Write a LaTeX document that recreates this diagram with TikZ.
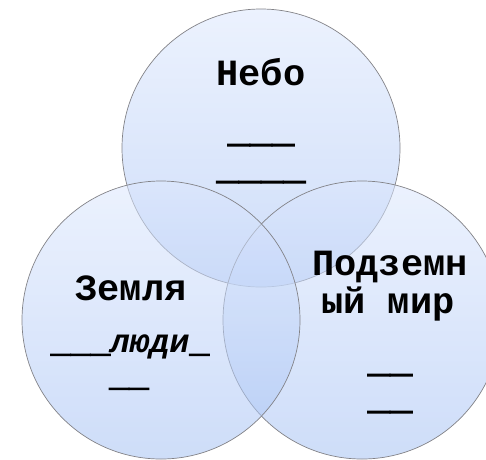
\documentclass[tikz,border=0pt]{standalone}
\usepackage{fontspec}
\newfontfamily\cour{Liberation Mono}
\newfontfamily\courheavy{Liberation Mono}[FakeBold=3]
\newcommand{\us}[1]{{\courheavy\bfseries #1}}
\definecolor{ctop}{RGB}{220,231,253}
\definecolor{cbot}{RGB}{165,193,243}
\definecolor{cedge}{RGB}{130,130,135}
\begin{document}
\begin{tikzpicture}[x=1pt,y=1pt,
  venn/.style={circle, inner sep=0pt, minimum size=278pt, draw=cedge, line width=0.7pt,
    top color=ctop, bottom color=cbot, fill opacity=0.55, draw opacity=1},
  big/.style={anchor=base, inner sep=0pt, text=black, font=\cour\bfseries\fontsize{37}{44}\selectfont},
  small/.style={anchor=base, inner sep=0pt, text=black, font=\cour\bfseries\fontsize{33}{40}\selectfont}]
\useasboundingbox (0,0) rectangle (486,-459);
\node[venn] (sky) at (261,-148) {};
\node[venn] (under) at (362,-320) {};
\node[venn] (earth) at (161,-320) {};
% texts
\node[big] (t1) at (261,-85) {Небо};
\node[big] (t2) at (261,-142) {\us{\_\_\_}};
\node[big] (t3) at (261,-179) {\us{\_\_\_\_}};
\node[big] (e1) at (131,-300) {Земля};
\node[small] (e2) at (130,-352) {\us{\_\_\_}{\itshape люди}\us{\_}};
\node[small] (e3) at (129,-386) {\us{\_\_}};
\node[big] (u1) at (390,-275) {Подземн};
\node[big] (u2) at (388,-313) {ый мир};
\node[big] (u3) at (390,-372) {\us{\_\_}};
\node[big] (u4) at (390,-409) {\us{\_\_}};
\end{tikzpicture}
\end{document}
